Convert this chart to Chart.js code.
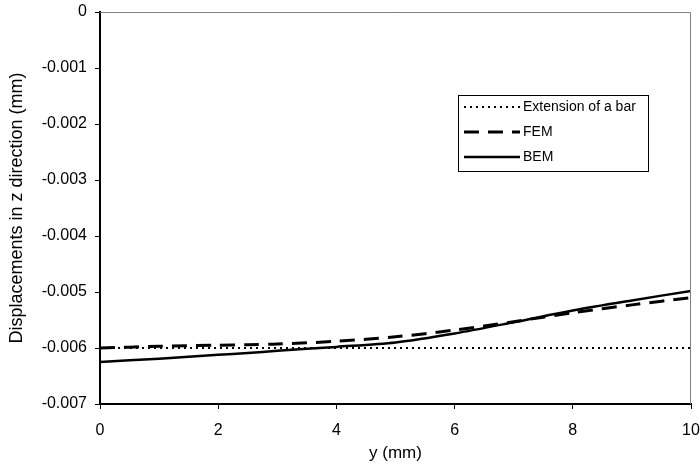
<!DOCTYPE html>
<html>
<head>
<meta charset="utf-8">
<script src="https://cdn.jsdelivr.net/npm/chart.js@4"></script>
<style>
  html, body { margin: 0; padding: 0; background: #fff; overflow: hidden; }
  #wrap { width: 700px; height: 466px; overflow: hidden; }
</style>
</head>
<body>
<div id="wrap"><canvas id="c" width="700" height="466"></canvas></div>
<script>
// Data
const xValues = [0, 1, 2, 2.5, 3, 4, 5, 6, 7, 8, 9, 10];
const extensionOfBar = [-0.006, -0.006, -0.006, -0.006, -0.006, -0.006, -0.006, -0.006, -0.006, -0.006, -0.006, -0.006];
const femValues = [-0.00600, -0.00597, -0.00595, -0.00594, -0.00593, -0.00588, -0.00580, -0.00568, -0.00553, -0.00537, -0.00523, -0.00510];
const bemValues = [-0.00625, -0.00619, -0.00612, -0.00609, -0.00605, -0.00598, -0.00590, -0.00574, -0.00554, -0.00533, -0.00515, -0.00498];
const seriesLabels = ['Extension of a bar', 'FEM', 'BEM'];
const xTicks = [0, 2, 4, 6, 8, 10];
const yTicks = [0, -0.001, -0.002, -0.003, -0.004, -0.005, -0.006, -0.007];

const FONT = 'Liberation Sans, Arial, sans-serif';

function pts(ys) { return xValues.map((x, i) => ({ x: x, y: ys[i] })); }

const frameAndLegend = {
  id: 'frameAndLegend',
  afterDraw(chart) {
    const ctx = chart.ctx;
    const a = chart.chartArea;
    ctx.save();
    // top & right frame (grey, thin)
    ctx.strokeStyle = '#808080';
    ctx.lineWidth = 1;
    ctx.beginPath();
    ctx.moveTo(a.left, a.top + 0.5);
    ctx.lineTo(a.right - 0.5, a.top + 0.5);
    ctx.lineTo(a.right - 0.5, a.bottom);
    ctx.stroke();
    // legend box
    const bx = 458.5, by = 95.5, bw = 190, bh = 76;
    ctx.fillStyle = '#fff';
    ctx.fillRect(bx, by, bw, bh);
    ctx.strokeStyle = '#000';
    ctx.lineWidth = 1;
    ctx.strokeRect(bx, by, bw, bh);
    const ds = chart.data.datasets;
    const rows = [107, 132, 157];
    ctx.font = '14px ' + FONT;
    ctx.textBaseline = 'middle';
    ctx.textAlign = 'left';
    ds.forEach((d, i) => {
      const y = rows[i];
      ctx.strokeStyle = '#000';
      ctx.lineWidth = d.borderWidth;
      ctx.setLineDash(d.borderDash || []);
      ctx.beginPath();
      ctx.moveTo(464, y);
      ctx.lineTo(520, y);
      ctx.stroke();
      ctx.setLineDash([]);
      ctx.fillStyle = '#000';
      ctx.fillText(d.label, 523, y);
    });
    ctx.restore();
  }
};

new Chart(document.getElementById('c'), {
  type: 'line',
  data: {
    datasets: [
      { label: seriesLabels[0], data: pts(extensionOfBar), borderColor: '#000', borderWidth: 2, borderDash: [2, 4], pointRadius: 0, fill: false, tension: 0 },
      { label: seriesLabels[1], data: pts(femValues), borderColor: '#000', borderWidth: 3, borderDash: [15, 9], pointRadius: 0, fill: false, tension: 0.3 },
      { label: seriesLabels[2], data: pts(bemValues), borderColor: '#000', borderWidth: 2.5, pointRadius: 0, fill: false, tension: 0.3 }
    ]
  },
  options: {
    responsive: false,
    animation: false,
    layout: { padding: { left: 0, right: 9, top: 12, bottom: 0 } },
    plugins: { legend: { display: false }, tooltip: { enabled: false } },
    scales: {
      x: {
        type: 'linear',
        min: 0, max: 10,
        afterBuildTicks(scale) { scale.ticks = xTicks.map(v => ({ value: v })); },
        afterFit(scale) { scale.height = 62; scale.paddingLeft = 0; scale.paddingRight = 0; },
        border: { color: '#000', width: 2 },
        grid: { drawOnChartArea: false, drawTicks: true, tickLength: 5, color: '#000', lineWidth: 1 },
        ticks: { color: '#000', font: { family: FONT, size: 16 }, padding: 12, maxRotation: 0 },
        title: { display: true, text: 'y (mm)', color: '#000', font: { family: FONT, size: 17 }, padding: { top: 0, bottom: 2 } }
      },
      y: {
        type: 'linear',
        min: -0.007, max: 0,
        afterBuildTicks(scale) { scale.ticks = yTicks.slice().reverse().map(v => ({ value: v })); },
        afterFit(scale) { scale.width = 100; scale.paddingTop = 0; scale.paddingBottom = 0; },
        border: { color: '#000', width: 2 },
        grid: { drawOnChartArea: false, drawTicks: true, tickLength: 5, color: '#000', lineWidth: 1 },
        ticks: {
          color: '#000', font: { family: FONT, size: 16 }, padding: 8,
          callback: (v) => (Math.abs(v) < 1e-12 ? '0' : v.toFixed(3))
        },
        title: { display: true, text: 'Displacements in z direction (mm)', color: '#000', font: { family: FONT, size: 18 }, padding: { top: 6, bottom: 0 } }
      }
    }
  },
  plugins: [frameAndLegend]
});
</script>
</body>
</html>
